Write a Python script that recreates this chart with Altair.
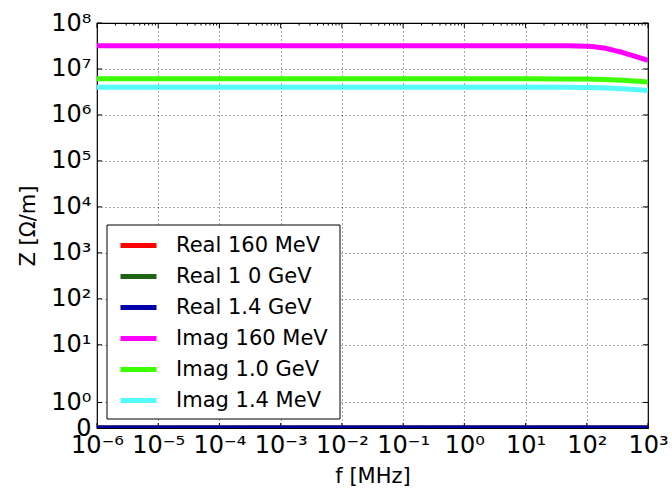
import math
import altair as alt
import pandas as pd

# ---- data ----
f_mhz = [1e-6, 1e-5, 1e-4, 1e-3, 1e-2, 1e-1, 1, 10, 50, 100, 150, 200, 250, 300, 400,
         500, 700, 1000]

real_160MeV = [0] * 18
real_1_0GeV = [0] * 18
real_1_4GeV = [0] * 18
imag_160MeV = [3.2e7, 3.2e7, 3.2e7, 3.2e7, 3.2e7, 3.2e7, 3.2e7, 3.2e7, 3.19e7, 3.12e7,
               2.98e7, 2.82e7, 2.63e7, 2.48e7, 2.25e7, 2.05e7, 1.78e7, 1.53e7]
imag_1_0GeV = [6.1e6, 6.1e6, 6.1e6, 6.1e6, 6.1e6, 6.1e6, 6.1e6, 6.1e6, 6.08e6, 6.02e6,
               5.96e6, 5.9e6, 5.84e6, 5.78e6, 5.67e6, 5.57e6, 5.4e6, 5.2e6]
imag_1_4MeV = [4.0e6, 4.0e6, 4.0e6, 4.0e6, 4.0e6, 4.0e6, 4.0e6, 4.0e6, 3.99e6, 3.96e6,
               3.92e6, 3.87e6, 3.82e6, 3.77e6, 3.7e6, 3.63e6, 3.52e6, 3.4e6]

series_names = ["Real 160 MeV", "Real 1 0 GeV", "Real 1.4 GeV",
                "Imag 160 MeV", "Imag 1.0 GeV", "Imag 1.4 MeV"]
series_values = [real_160MeV, real_1_0GeV, real_1_4GeV,
                 imag_160MeV, imag_1_0GeV, imag_1_4MeV]
series_colors = ["#ff0000", "#1e6414", "#0000aa", "#ff00ff", "#3cff00", "#55fafa"]

x_decades = [1e-6, 1e-5, 1e-4, 1e-3, 1e-2, 1e-1, 1, 10, 100, 1000]
y_ticks = [0, 1, 10, 100, 1e3, 1e4, 1e5, 1e6, 1e7, 1e8]

# symlog (matplotlib style) parameters
T = 2.0               # linthresh
L = 1.0 / (1 - 0.1)   # linscale adjusted (in decades)


def sympos(v):
    return v * L / T if v <= T else L + math.log10(v / T)


y_tick_pos = [sympos(v) for v in y_ticks]
y_top = sympos(1e8)

rows = []
for name, vals in zip(series_names, series_values):
    for f, z in zip(f_mhz, vals):
        rows.append({"f": f, "z": z, "series": name})
df = pd.DataFrame(rows)

minor_x = [k * d for d in x_decades[:-1] for k in range(2, 10)]

W, H = 551, 405
FONT = "DejaVu Sans"
SUP = "['\u2070','\u00b9','\u00b2','\u00b3','\u2074','\u2075','\u2076','\u2077','\u2078','\u2079']"
EX = "round(log(datum.value)/LN10)"
x_label_expr = f"'10' + ({EX} < 0 ? '\u207b' : '') + {SUP}[abs({EX})]"
y_label_expr = (
    f"datum.value < 0.01 ? '0' : '10' + {SUP}[round(log(datum.value <= {L} ? "
    f"datum.value*{T}/{L} : {T}*pow(10, datum.value - {L}))/LN10)]"
)

x_scale = alt.Scale(type="log", domain=[1e-6, 1e3], nice=False)
y_scale = alt.Scale(type="linear", domain=[0, y_top], nice=False, zero=False)

lines = alt.Chart(df).transform_calculate(
    pos=f"datum.z <= {T} ? datum.z*{L}/{T} : {L} + log(datum.z/{T})/LN10"
).mark_line(strokeWidth=5, clip=True, interpolate="monotone").encode(
    x=alt.X("f:Q", scale=x_scale, title="f [MHz]",
            axis=alt.Axis(values=x_decades, labelExpr=x_label_expr, grid=True,
                          gridDash=[1, 3], gridColor="#000", gridWidth=0.7,
                          ticks=False, domain=False, labelFontSize=24,
                          labelFont=FONT, labelPadding=5, labelColor="#000",
                          titleFont=FONT, titleFontSize=21, titleFontWeight="normal",
                          titleColor="#000", titlePadding=8, labelFlush=False,
                          labelOverlap=False)),
    y=alt.Y("pos:Q", scale=y_scale, title="Z [\u03a9/m]",
            axis=alt.Axis(values=y_tick_pos, labelExpr=y_label_expr, grid=True,
                          gridDash=[1, 3], gridColor="#000", gridWidth=0.7,
                          ticks=False, domain=False, labelFontSize=24,
                          labelFont=FONT, labelPadding=6, labelColor="#000",
                          titleFont=FONT, titleFontSize=21, titleFontWeight="normal",
                          titleColor="#000", titlePadding=12, labelFlush=False,
                          labelOverlap=False)),
    color=alt.Color("series:N",
                    scale=alt.Scale(domain=series_names, range=series_colors),
                    legend=alt.Legend(title=None, orient="none", legendX=21, legendY=202,
                                      strokeColor="transparent", padding=0,
                                      symbolType="stroke", symbolStrokeWidth=5,
                                      symbolSize=1296, labelFontSize=21, labelFont=FONT,
                                      labelColor="#000", rowPadding=-1.2, labelOffset=17,
                                      cornerRadius=0)),
    detail="series:N",
)

# legend frame (white box with black border, matplotlib style)
legend_box = alt.Chart(pd.DataFrame({"k": [0]})).mark_rect(
    fill="#fff", stroke="#000", strokeWidth=1
).encode(x=alt.value(10), x2=alt.value(243), y=alt.value(202), y2=alt.value(396))

tick_x_major = pd.DataFrame({"f": x_decades})
tick_x_minor = pd.DataFrame({"f": minor_x})
tick_y = pd.DataFrame({"pos": y_tick_pos})


def xticks(data, length):
    b = alt.Chart(data).mark_rule(color="#000", strokeWidth=1).encode(
        x=alt.X("f:Q", scale=x_scale), y=alt.value(H), y2=alt.value(H - length))
    t = alt.Chart(data).mark_rule(color="#000", strokeWidth=1).encode(
        x=alt.X("f:Q", scale=x_scale), y=alt.value(0), y2=alt.value(length))
    return [b, t]


def yticks(data, length):
    l = alt.Chart(data).mark_rule(color="#000", strokeWidth=1).encode(
        y=alt.Y("pos:Q", scale=y_scale), x=alt.value(0), x2=alt.value(length))
    r = alt.Chart(data).mark_rule(color="#000", strokeWidth=1).encode(
        y=alt.Y("pos:Q", scale=y_scale), x=alt.value(W), x2=alt.value(W - length))
    return [l, r]


layers = (xticks(tick_x_major, 5) + xticks(tick_x_minor, 2.5) + yticks(tick_y, 5)
          + [lines, legend_box])

chart = alt.layer(*layers).properties(
    width=W, height=H,
    autosize=alt.AutoSizeParams(type="none"),
    padding={"left": 97, "top": 23, "right": 24, "bottom": 65},
    background="#fff",
).configure_view(stroke="#000", strokeWidth=1.2)

chart.save("out.html", embed_options={"renderer": "svg", "actions": False})
